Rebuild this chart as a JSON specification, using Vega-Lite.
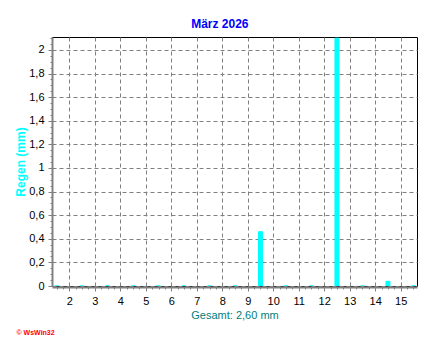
{
  "$schema": "https://vega.github.io/schema/vega-lite/v6.json",
  "autosize": {"type": "none"},
  "width": 365,
  "height": 249,
  "padding": {"left": 52, "top": 37, "right": 13, "bottom": 64},
  "background": "#FFFFFF",
  "config": {
    "font": "Liberation Sans",
    "view": {"stroke": "#000000", "strokeWidth": 1}
  },
  "title": {
    "text": "März 2026",
    "color": "#0000FF",
    "fontSize": 12,
    "fontWeight": "bold",
    "font": "Liberation Sans",
    "anchor": "middle",
    "frame": "bounds",
    "offset": 6,
    "dx": 4
  },
  "data": {
    "values": [
      {"day": 1.5, "rain": 0},
      {"day": 2.5, "rain": 0},
      {"day": 3.5, "rain": 0},
      {"day": 4.5, "rain": 0},
      {"day": 5.5, "rain": 0},
      {"day": 6.5, "rain": 0},
      {"day": 7.5, "rain": 0},
      {"day": 8.5, "rain": 0},
      {"day": 9.5, "rain": 0.46},
      {"day": 10.5, "rain": 0},
      {"day": 11.5, "rain": 0},
      {"day": 12.5, "rain": 2.1},
      {"day": 13.5, "rain": 0},
      {"day": 14.5, "rain": 0.04},
      {"day": 15.5, "rain": 0}
    ]
  },
  "layer": [
    {
      "mark": {"type": "bar", "size": 4, "color": "#00FFFF", "stroke": "#00FFFF", "strokeWidth": 1, "clip": true},
      "encoding": {
        "x": {
          "field": "day",
          "type": "quantitative",
          "scale": {"domain": [1.32, 15.64], "nice": false, "zero": false, "padding": 0},
          "axis": {
            "orient": "bottom",
            "offset": 1,
            "values": [2, 3, 4, 5, 6, 7, 8, 9, 10, 11, 12, 13, 14, 15],
            "grid": true,
            "gridColor": "#808080",
            "gridDash": [4, 3],
            "gridOpacity": 1,
            "domainColor": "#808080",
            "domainWidth": 2,
            "tickColor": "#808080",
            "tickSize": 4,
            "tickWidth": 1,
            "labelColor": "#000000",
            "labelFontSize": 11,
            "labelPadding": 4,
            "labelFlush": false,
            "title": "Gesamt: 2,60 mm",
            "titleColor": "#008080",
            "titleFontSize": 11,
            "titleFontWeight": "normal",
            "titlePadding": 3
          }
        },
        "y": {
          "field": "rain",
          "type": "quantitative",
          "scale": {"domain": [0, 2.11], "nice": false, "padding": 0},
          "axis": {
            "orient": "left",
            "values": [0, 0.2, 0.4, 0.6, 0.8, 1, 1.2, 1.4, 1.6, 1.8, 2],
            "labelExpr": "replace(format(datum.value, ''), '.', ',')",
            "grid": true,
            "gridColor": "#808080",
            "gridDash": [4, 3],
            "gridOpacity": 1,
            "domainColor": "#808080",
            "domainWidth": 2,
            "tickColor": "#808080",
            "tickSize": 4,
            "labelColor": "#000000",
            "labelFontSize": 11,
            "labelPadding": 4,
            "labelFlush": false,
            "title": "Regen (mm)",
            "titleColor": "#00FFFF",
            "titleFontSize": 12,
            "titleFontWeight": "bold",
            "titlePadding": 1
          }
        }
      }
    },
    {
      "mark": {"type": "bar", "opacity": 0},
      "encoding": {
        "x": {
          "field": "day",
          "type": "quantitative",
          "axis": {
            "orient": "bottom",
            "offset": 1,
            "values": [1.5, 1.75, 2.25, 2.5, 2.75, 3.25, 3.5, 3.75, 4.25, 4.5, 4.75, 5.25, 5.5, 5.75, 6.25, 6.5, 6.75, 7.25, 7.5, 7.75, 8.25, 8.5, 8.75, 9.25, 9.5, 9.75, 10.25, 10.5, 10.75, 11.25, 11.5, 11.75, 12.25, 12.5, 12.75, 13.25, 13.5, 13.75, 14.25, 14.5, 14.75, 15.25, 15.5],
            "labels": false,
            "grid": false,
            "domain": false,
            "tickColor": "#808080",
            "tickSize": 2,
            "title": "© WsWin32",
            "titleColor": "#FF0000",
            "titleFontSize": 7,
            "titleFontWeight": "bold",
            "titleAnchor": "start",
            "titleAlign": "left",
            "titleBaseline": "alphabetic",
            "titleX": -36,
            "titleY": 47
          }
        },
        "y": {
          "field": "rain",
          "type": "quantitative",
          "axis": {
            "orient": "left",
            "values": [0.05, 0.1, 0.15, 0.25, 0.3, 0.35, 0.45, 0.5, 0.55, 0.65, 0.7, 0.75, 0.85, 0.9, 0.95, 1.05, 1.1, 1.15, 1.25, 1.3, 1.35, 1.45, 1.5, 1.55, 1.65, 1.7, 1.75, 1.85, 1.9, 1.95, 2.05, 2.1],
            "labels": false,
            "grid": false,
            "domain": false,
            "tickColor": "#808080",
            "tickSize": 2,
            "title": null
          }
        }
      }
    }
  ],
  "resolve": {"axis": {"x": "independent", "y": "independent"}}
}
